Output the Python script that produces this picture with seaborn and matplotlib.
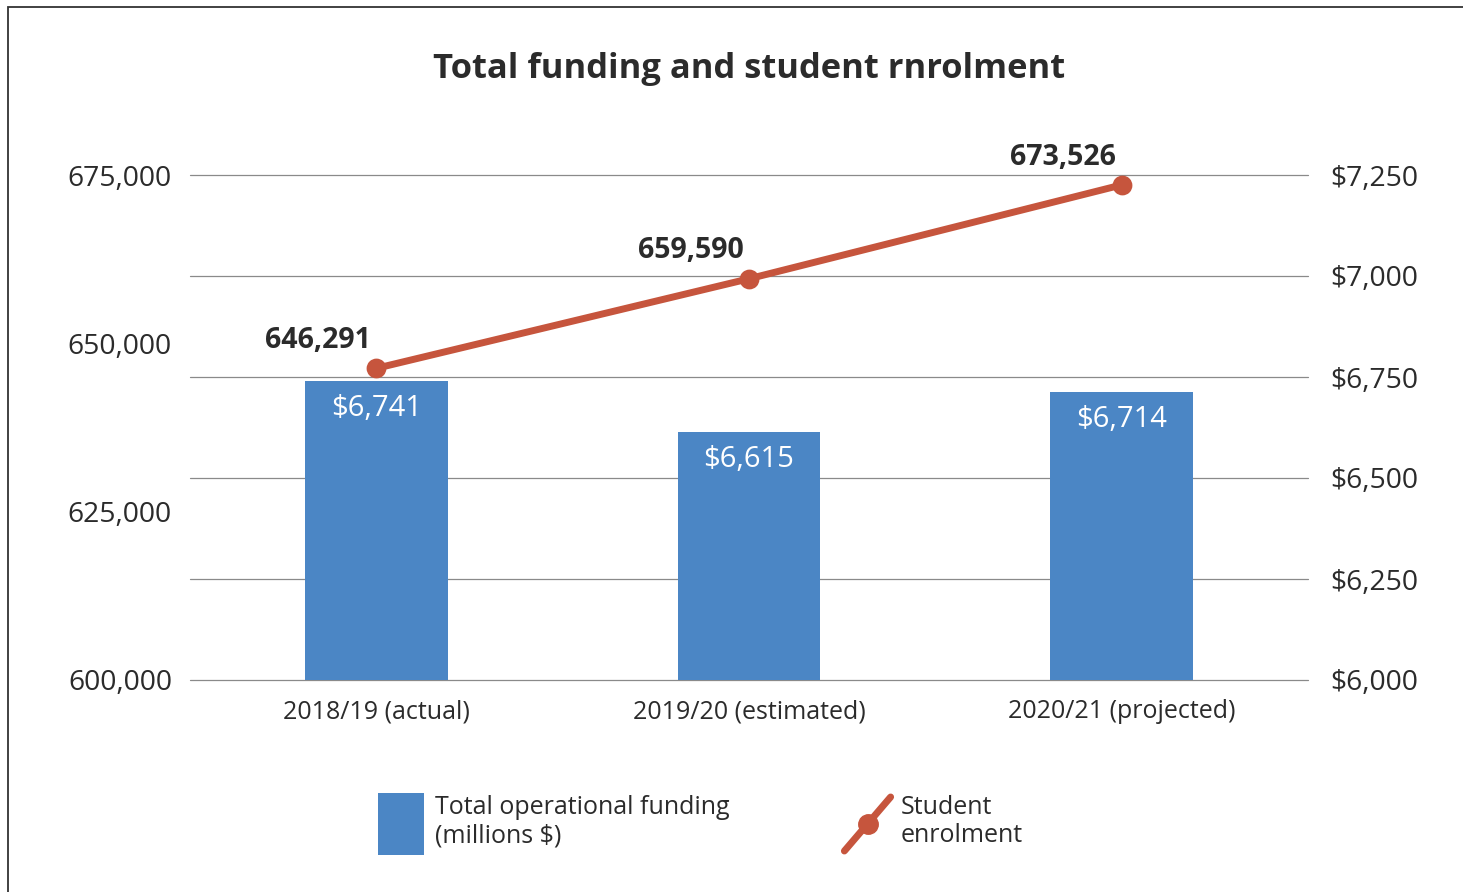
import matplotlib
matplotlib.use("Agg")
import matplotlib.pyplot as plt
import seaborn as sns
import pandas as pd
from matplotlib.patches import Rectangle, Patch
from matplotlib.lines import Line2D
from matplotlib.legend_handler import HandlerBase
from matplotlib.ticker import FuncFormatter

# ---- data ----
categories = ["2018/19 (actual)", "2019/20 (estimated)", "2020/21 (projected)"]
funding = [6741, 6615, 6714]          # millions $
enrolment = [646291, 659590, 673526]  # students
left_ticks = [600000, 625000, 650000, 675000]
right_ticks = [6000, 6250, 6500, 6750, 7000, 7250]

title = "Total funding and student rnrolment"
bar_label = "Total operational funding\n(millions $)"
line_label = "Student\nenrolment"

BLUE = "#4b86c5"
RED = "#c6553d"
TXT = "#2b2b2b"

sns.set_theme(style="white")
plt.rcParams["font.family"] = ["Open Sans", "DejaVu Sans"]

df = pd.DataFrame({"cat": categories, "funding": funding, "enrol": enrolment})

fig = plt.figure(figsize=(14.63, 8.92), dpi=100)
W, H = 1463, 892
ax2 = fig.add_axes([190 / W, 1 - 680 / H, (1308 - 190) / W, (680 - 175) / H])
ax = ax2.twinx()

# ax2: bars on the right-hand scale
sns.barplot(data=df, x="cat", y="funding", ax=ax2, color=BLUE, width=0.383,
            saturation=1, edgecolor="none", zorder=2)
ax2.set_ylim(6000, 7250)
ax2.set_yticks(right_ticks)
ax2.yaxis.set_major_formatter(FuncFormatter(lambda v, p: f"${int(v):,}"))
ax2.yaxis.tick_right()
ax2.yaxis.set_label_position("right")
ax2.grid(axis="y", color="#8a8a8a", lw=0.9)
ax2.set_axisbelow(True)
ax2.set_xlim(-0.5, 2.5)
ax2.set_xlabel("")
ax2.set_ylabel("")
for gl in ax2.get_ygridlines():
    gl.set_clip_on(False)

# ax: enrolment line on the left-hand scale, drawn on top
sns.pointplot(data=df, x="cat", y="enrol", ax=ax, color=RED, markers="o",
              linestyles="-", linewidth=5, markersize=10.5)
ax.set_ylim(600000, 675000)
ax.set_yticks(left_ticks)
ax.yaxis.set_major_formatter(FuncFormatter(lambda v, p: f"{int(v):,}"))
ax.yaxis.tick_left()
ax.yaxis.set_label_position("left")
ax.set_xlim(-0.5, 2.5)
ax.set_ylabel("")
ax.set_xlabel("")
ax.grid(False)

for a in (ax, ax2):
    for s in a.spines.values():
        s.set_visible(False)
    a.tick_params(length=0)

ax.tick_params(axis="y", labelsize=20.3, labelcolor=TXT, pad=13)
ax2.tick_params(axis="y", labelsize=20.3, labelcolor=TXT, pad=16)
ax2.tick_params(axis="x", labelsize=18, labelcolor=TXT, pad=14)
ax.tick_params(axis="x", labelbottom=False)

# value labels
for i, v in enumerate(enrolment):
    ax.annotate(f"{v:,}", (i, v), xytext=(-4, 20), textcoords="offset points",
                ha="right", va="center", fontsize=20.5, fontweight="bold", color=TXT)
for i, v in enumerate(funding):
    ax2.annotate(f"${v:,}", (i, v), xytext=(0, -20), textcoords="offset points",
                 ha="center", va="center", fontsize=21, fontweight="medium", color="white")

fig.text(749 / W, 1 - 69 / H, title, ha="center", va="center", fontsize=24.8,
         fontweight="bold", color=TXT)

# legend
class DiagLine(HandlerBase):
    def create_artists(self, legend, orig_handle, xdescent, ydescent, width, height,
                       fontsize, trans):
        x0, y0 = -xdescent, -ydescent
        pad = height * 0.06
        l = Line2D([x0, x0 + width], [y0 + pad, y0 + height - pad], color=RED, lw=5,
                   solid_capstyle="round", transform=trans)
        m = Line2D([x0 + width / 2], [y0 + height / 2], marker="o", ms=14,
                   color=RED, lw=0, transform=trans)
        return [l, m]

line_handle = Line2D([], [], color=RED)
bar_handle = Patch(facecolor=BLUE, edgecolor="none")
fig.legend([bar_handle, line_handle], [bar_label, line_label],
           handler_map={Line2D: DiagLine()}, loc="center left",
           bbox_to_anchor=(378 / W, 1 - 824 / H), ncol=2, frameon=False,
           fontsize=18, handlelength=1.85, handleheight=3.4, handletextpad=0.42,
           columnspacing=4.6, borderpad=0, borderaxespad=0, labelspacing=0.3,
           labelcolor=TXT)

# outer frame (cut by right/bottom edges)
fig.add_artist(Rectangle((8 / W, -0.1), 1.2, 1 - 7 / H + 0.1, transform=fig.transFigure,
                         fill=False, edgecolor="#333333", lw=1.3))

fig.savefig("out.png", dpi=100)
